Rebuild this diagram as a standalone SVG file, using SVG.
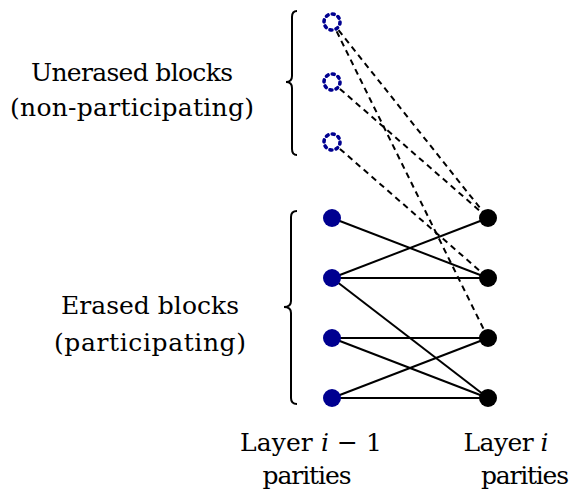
<svg xmlns="http://www.w3.org/2000/svg" width="569" height="493" viewBox="0 0 569 493">
<style>
.lbl{font-family:"DejaVu Serif",serif;font-size:25px;fill:#000;text-anchor:middle}
.blue{fill:#000090}
.blk{fill:#000}
.dot{fill:#fff;stroke:#000090;stroke-width:3.6;stroke-dasharray:2 4.28;stroke-linecap:round}
.solid{stroke:#000;stroke-width:2;fill:none}
.dash{stroke:#000;stroke-width:2;fill:none;stroke-dasharray:6 4.5}
.brace{stroke:#000;stroke-width:2;fill:none}
</style>
<rect width="569" height="493" fill="#fff"/>
<g id="connectors">
<line class="dash" x1="332" y1="22" x2="488" y2="218"/>
<line class="dash" x1="332" y1="22" x2="488" y2="338"/>
<line class="dash" x1="332" y1="82" x2="488" y2="218"/>
<line class="dash" x1="332" y1="142" x2="488" y2="278"/>
<line class="solid" x1="332" y1="218" x2="488" y2="278"/>
<line class="solid" x1="332" y1="278" x2="488" y2="218"/>
<line class="solid" x1="332" y1="278" x2="488" y2="278"/>
<line class="solid" x1="332" y1="278" x2="488" y2="398"/>
<line class="solid" x1="332" y1="338" x2="488" y2="338"/>
<line class="solid" x1="332" y1="338" x2="488" y2="398"/>
<line class="solid" x1="332" y1="398" x2="488" y2="338"/>
<line class="solid" x1="332" y1="398" x2="488" y2="398"/>
</g>
<g id="u1"><circle class="dot" cx="332" cy="22" r="8"/></g>
<g id="u2"><circle class="dot" cx="332" cy="82" r="8"/></g>
<g id="u3"><circle class="dot" cx="332" cy="142" r="8"/></g>
<g id="e1"><circle class="blue" cx="332" cy="218" r="9"/></g>
<g id="e2"><circle class="blue" cx="332" cy="278" r="9"/></g>
<g id="e3"><circle class="blue" cx="332" cy="338" r="9"/></g>
<g id="e4"><circle class="blue" cx="332" cy="398" r="9"/></g>
<g id="p1"><circle class="blk" cx="488" cy="218" r="9"/></g>
<g id="p2"><circle class="blk" cx="488" cy="278" r="9"/></g>
<g id="p3"><circle class="blk" cx="488" cy="338" r="9"/></g>
<g id="p4"><circle class="blk" cx="488" cy="398" r="9"/></g>
<g id="brace-unerased">
<path class="brace" d="M297,11 Q292,11 292,17 L292,76 Q292,82 286,82 Q292,82 292,88 L292,149 Q292,155 297,155"/>
</g>
<g id="brace-erased">
<path class="brace" d="M297,211 Q291,211 291,217 L291,301 Q291,307 284,307 Q291,307 291,313 L291,398 Q291,404 297,404"/>
</g>
<g id="label-unerased">
<text class="lbl" x="132" y="81" textLength="202">Unerased blocks</text>
<text class="lbl" x="132" y="116" textLength="244">(non-participating)</text>
</g>
<g id="label-erased">
<text class="lbl" x="150" y="314" textLength="178">Erased blocks</text>
<text class="lbl" x="150" y="351" textLength="192">(participating)</text>
</g>
<g id="label-layer-prev">
<text class="lbl" x="311" y="451" textLength="142">Layer <tspan font-style="italic">i</tspan> − 1</text>
<text class="lbl" x="307" y="484" textLength="89">parities</text>
</g>
<g id="label-layer-cur">
<text class="lbl" x="506" y="451" textLength="85">Layer <tspan font-style="italic">i</tspan></text>
<text class="lbl" x="525" y="484" textLength="88">parities</text>
</g>
</svg>
